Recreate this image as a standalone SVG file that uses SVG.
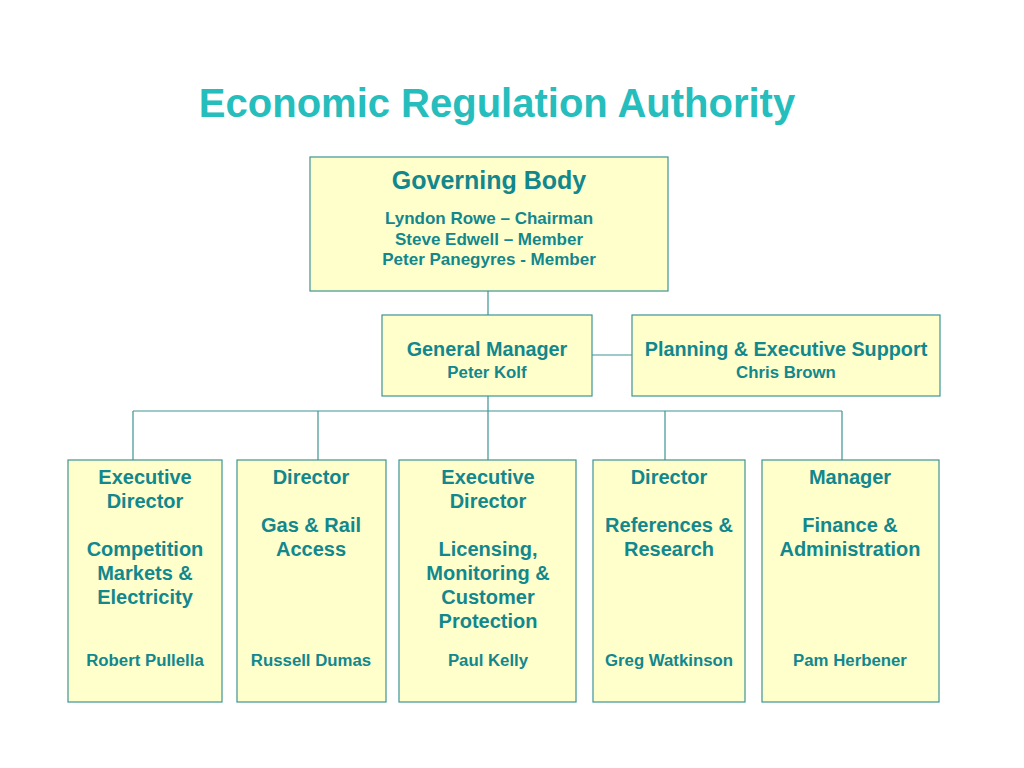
<svg xmlns="http://www.w3.org/2000/svg" width="1024" height="768" viewBox="0 0 1024 768">
<style>
.box{fill:#FFFFCC;stroke:#3E9494;stroke-width:1.2}
.t{font-family:"Liberation Sans",Arial,sans-serif;font-weight:bold;fill:#12878C;text-anchor:middle}
.h{font-size:20px}
.s{font-size:16.8px}
.c{fill:none;stroke:#3E9494;stroke-width:1.2}
</style>
<rect width="1024" height="768" fill="#FFFFFF"/>
<text x="497" y="117" class="t" style="font-size:40px;fill:#26BDBD">Economic Regulation Authority</text>
<g id="connectors">
<path class="c" d="M488 291V315M592 355H632M488 396V411M133 411H842M133 411V460M318 411V460M488 411V460M665 411V460M842 411V460"/>
</g>
<g id="governing">
<rect class="box" x="310" y="157" width="358" height="134"/>
<text x="489" y="189" class="t" style="font-size:25px">Governing Body</text>
<text x="489" y="224" class="t" style="font-size:17px">Lyndon Rowe – Chairman</text>
<text x="489" y="245" class="t" style="font-size:17px">Steve Edwell – Member</text>
<text x="489" y="265" class="t" style="font-size:17px">Peter Panegyres - Member</text>
</g>
<g id="gm">
<rect class="box" x="382" y="315" width="210" height="81"/>
<text x="487" y="356" class="t" style="font-size:19.8px">General Manager</text>
<text x="487" y="378" class="t" style="font-size:16.8px">Peter Kolf</text>
</g>
<g id="planning">
<rect class="box" x="632" y="315" width="308" height="81"/>
<text x="786" y="356" class="t" style="font-size:19.8px">Planning &amp; Executive Support</text>
<text x="786" y="378" class="t" style="font-size:16.8px">Chris Brown</text>
</g>
<g id="competition">
<rect class="box" x="68" y="460" width="154" height="242"/>
<text x="145" y="484" class="t h">Executive</text>
<text x="145" y="508" class="t h">Director</text>
<text x="145" y="556" class="t h">Competition</text>
<text x="145" y="580" class="t h">Markets &amp;</text>
<text x="145" y="604" class="t h">Electricity</text>
<text x="145" y="666" class="t s">Robert Pullella</text>
</g>
<g id="gasrail">
<rect class="box" x="237" y="460" width="149" height="242"/>
<text x="311" y="484" class="t h">Director</text>
<text x="311" y="532" class="t h">Gas &amp; Rail</text>
<text x="311" y="556" class="t h">Access</text>
<text x="311" y="666" class="t s">Russell Dumas</text>
</g>
<g id="licensing">
<rect class="box" x="399" y="460" width="177" height="242"/>
<text x="488" y="484" class="t h">Executive</text>
<text x="488" y="508" class="t h">Director</text>
<text x="488" y="556" class="t h">Licensing,</text>
<text x="488" y="580" class="t h">Monitoring &amp;</text>
<text x="488" y="604" class="t h">Customer</text>
<text x="488" y="628" class="t h">Protection</text>
<text x="488" y="666" class="t s">Paul Kelly</text>
</g>
<g id="research">
<rect class="box" x="593" y="460" width="152" height="242"/>
<text x="669" y="484" class="t h">Director</text>
<text x="669" y="532" class="t h">References &amp;</text>
<text x="669" y="556" class="t h">Research</text>
<text x="669" y="666" class="t s">Greg Watkinson</text>
</g>
<g id="finance">
<rect class="box" x="762" y="460" width="177" height="242"/>
<text x="850" y="484" class="t h">Manager</text>
<text x="850" y="532" class="t h">Finance &amp;</text>
<text x="850" y="556" class="t h">Administration</text>
<text x="850" y="666" class="t s">Pam Herbener</text>
</g>
</svg>
